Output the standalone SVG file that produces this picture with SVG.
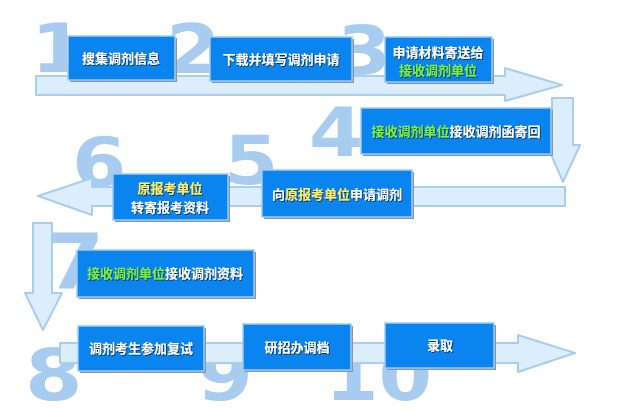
<svg xmlns="http://www.w3.org/2000/svg" width="640" height="417" viewBox="0 0 640 417">
<defs>
<style>
.num{font-family:"DejaVu Sans","Liberation Sans",sans-serif;font-weight:bold;fill:#a8ccef;}
.band{fill:#dcedfb;stroke:#a9cdee;stroke-width:2;stroke-linejoin:round;}
.sh{fill:#8796a6;}
.box{fill:#0a84ee;stroke:#9fcaf2;stroke-width:1.5;}
.t{font-family:"Noto Sans CJK SC","Noto Sans",sans-serif;font-weight:bold;font-size:13px;fill:#ffffff;text-anchor:middle;filter:url(#ds);}
.g{fill:#7cf03a;}
.y{fill:#fff06a;}
</style>
<filter id="ds" x="-10%" y="-30%" width="120%" height="160%">
<feDropShadow dx="1" dy="1" stdDeviation="0.4" flood-color="#06325a" flood-opacity="0.9"/>
</filter>
</defs>
<rect width="640" height="417" fill="#ffffff"/>
<g id="numbers">
<text class="num" transform="translate(31,72) scale(1.15,1)" font-size="68">1</text>
<text class="num" transform="translate(166,73) scale(1.15,1)" font-size="68">2</text>
<text class="num" transform="translate(337,74) scale(1.15,1)" font-size="68">3</text>
<text class="num" transform="translate(309,156) scale(1.15,1)" font-size="68">4</text>
<text class="num" transform="translate(224,184) scale(1.15,1)" font-size="68">5</text>
<text class="num" transform="translate(72,186) scale(1.15,1)" font-size="68">6</text>
<text class="num" transform="translate(46,288) scale(1.1,1)" font-size="76">7</text>
<text class="num" transform="translate(25,400) scale(1.15,1)" font-size="72">8</text>
<text class="num" transform="translate(197,400) scale(1.15,1)" font-size="70">9</text>
<text class="num" transform="translate(325,400) scale(1.1,1)" font-size="70">10</text>
</g>
<g id="connectors">
<path class="band" d="M36,76 H505 V68 L562,85 L505,101 V95 H36 Z"/>
<path class="band" d="M552,98 H573 V145 H580 L563,182 L547,145 H552 Z"/>
<path class="band" d="M565,187 V206 H92 V215 L38,196 L92,178 V187 Z"/>
<path class="band" d="M33,223 H52 V293 H62 L43,330 L25,293 H33 Z"/>
<path class="band" d="M60,343 H518 V335 L575,353 L518,372 V363 H60 Z"/>
</g>
<g id="n1"><rect class="sh" x="70" y="38" width="107" height="44"/><rect class="box" x="68" y="36" width="107" height="44"/><text class="t" x="121" y="63">搜集调剂信息</text></g>
<g id="n2"><rect class="sh" x="212" y="39" width="142" height="44"/><rect class="box" x="210" y="37" width="142" height="44"/><text class="t" x="281" y="64">下载并填写调剂申请</text></g>
<g id="n3"><rect class="sh" x="387" y="39" width="107" height="45"/><rect class="box" x="385" y="37" width="107" height="45"/><text class="t" x="438" y="57">申请材料寄送给</text><text class="t g" x="438" y="75">接收调剂单位</text></g>
<g id="n4"><rect class="sh" x="363" y="110" width="190" height="46"/><rect class="box" x="361" y="108" width="190" height="46"/><text class="t" x="456" y="136"><tspan class="g">接收调剂单位</tspan>接收调剂函寄回</text></g>
<g id="n5"><rect class="sh" x="264" y="172" width="150" height="47"/><rect class="box" x="262" y="170" width="150" height="47"/><text class="t" x="337" y="199">向<tspan class="y">原报考单位</tspan>申请调剂</text></g>
<g id="n6"><rect class="sh" x="115" y="176" width="115" height="46"/><rect class="box" x="113" y="174" width="115" height="46"/><text class="t y" x="170" y="193">原报考单位</text><text class="t" x="170" y="212">转寄报考资料</text></g>
<g id="n7"><rect class="sh" x="79" y="252" width="177" height="47"/><rect class="box" x="77" y="250" width="177" height="47"/><text class="t" x="165" y="278"><tspan class="g">接收调剂单位</tspan>接收调剂资料</text></g>
<g id="n8"><rect class="sh" x="80" y="328" width="126" height="45"/><rect class="box" x="78" y="326" width="126" height="45"/><text class="t" x="141" y="353">调剂考生参加复试</text></g>
<g id="n9"><rect class="sh" x="245" y="326" width="108" height="46"/><rect class="box" x="243" y="324" width="108" height="46"/><text class="t" x="297" y="352">研招办调档</text></g>
<g id="n10"><rect class="sh" x="387" y="325" width="109" height="45"/><rect class="box" x="385" y="323" width="109" height="45"/><text class="t" x="440" y="350">录取</text></g>
</svg>
